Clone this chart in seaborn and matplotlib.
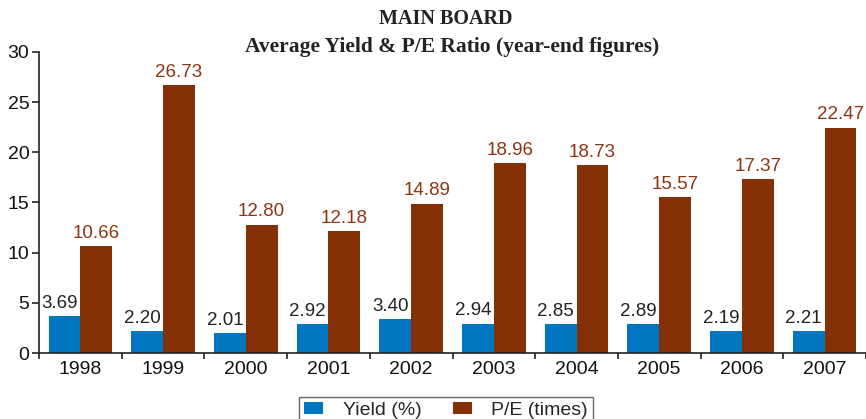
import numpy as np
import pandas as pd
import matplotlib
matplotlib.use("Agg")
import matplotlib.pyplot as plt
import seaborn as sns

years = ["1998", "1999", "2000", "2001", "2002", "2003", "2004", "2005", "2006", "2007"]
yield_pct = [3.69, 2.20, 2.01, 2.92, 3.40, 2.94, 2.85, 2.89, 2.19, 2.21]
pe_times = [10.66, 26.73, 12.80, 12.18, 14.89, 18.96, 18.73, 15.57, 17.37, 22.47]
series_names = ["Yield (%)", "P/E (times)"]

blue = "#0076c0"
brown = "#842f06"

df = pd.DataFrame({
    "year": years * 2,
    "value": yield_pct + pe_times,
    "series": [series_names[0]] * len(years) + [series_names[1]] * len(years),
})

sns.set_style("white")
plt.rcParams["font.family"] = ["Liberation Sans", "DejaVu Sans"]

fig = plt.figure(figsize=(8.66, 4.19), dpi=100)
ax = fig.add_axes([39 / 866, 66 / 419, 827 / 866, 301 / 419])

sns.barplot(data=df, x="year", y="value", hue="series", palette=[blue, brown],
            width=0.77, saturation=1, linewidth=0, ax=ax)

# value labels (yield ones nudged left so they clear the brown bars)
for cont, col, dx in zip(ax.containers, ["#222222", "#8b3510"], [-3.6, 0]):
    anns = ax.bar_label(cont, fmt="%.2f", padding=3, fontsize=13.5, color=col)
    for a in anns:
        a.xyann = (dx, a.xyann[1])

ax.set_ylim(0, 30)
ax.set_xlim(-0.5, -0.5 + 827 / 83)
ax.set_yticks(range(0, 31, 5))
ax.set_xlabel("")
ax.set_ylabel("")

# ticks at group edges, labels at centres
ax.set_xticks(np.arange(len(years) + 1) - 0.5)
ax.set_xticklabels([])
ax.set_xticks(np.arange(len(years)), minor=True)
ax.set_xticklabels(years, minor=True)
ax.tick_params(axis="x", which="major", direction="out", length=4, width=1.2, color="#222222")
ax.tick_params(axis="x", which="minor", length=0, labelsize=14, pad=6, labelcolor="#111111")
ax.tick_params(axis="y", direction="out", length=5, width=1.2, color="#222222",
               labelsize=14, labelcolor="#111111", pad=2)
ax.tick_params(bottom=True, left=True)

sns.despine(ax=ax)
for s in ["left", "bottom"]:
    ax.spines[s].set_color("#222222")
    ax.spines[s].set_linewidth(1.2)

fig.text(0.515, 0.955, "MAIN BOARD", ha="center", va="center", fontsize=14.5,
         fontweight="bold", family=["Liberation Serif", "DejaVu Serif"], color="#222222")
fig.text(0.522, 0.888, "Average Yield & P/E Ratio (year-end figures)", ha="center", va="center",
         fontsize=15.5, fontweight="bold", family=["Liberation Serif", "DejaVu Serif"], color="#222222")

handles, labels = ax.get_legend_handles_labels()
ax.legend_.remove()
leg = fig.legend(handles, labels, loc="upper center", bbox_to_anchor=(0.515, 1 - 397 / 419),
                 borderaxespad=0, ncol=2, fontsize=14, frameon=True, fancybox=False,
                 edgecolor="#444444", handlelength=1.0, handleheight=0.55,
                 columnspacing=1.6, borderpad=0.25, handletextpad=1.0)
leg.get_frame().set_linewidth(1.0)

fig.savefig("out.png", dpi=100)
